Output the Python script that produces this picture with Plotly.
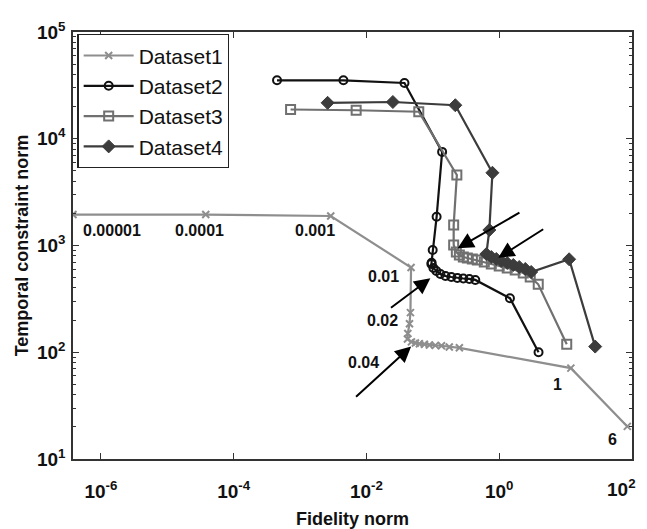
import numpy as np
import plotly.graph_objects as go

# ---------------- data ----------------
d1_x = [3.8e-7, 3.8e-5, 2.9e-3, 0.047, 0.046, 0.0445, 0.042, 0.0415, 0.0476, 0.0547,
        0.0628, 0.0746, 0.0887, 0.109, 0.135, 0.177, 0.251, 12.0, 85.0]
d1_y = [1950, 1950, 1890, 622, 235, 185, 150, 133, 125, 122,
        120, 119, 117, 116, 115, 112, 110, 71, 20.2]

d2_x = [4.5e-4, 4.5e-3, 0.0374, 0.138, 0.114, 0.0995, 0.096,
        0.0951, 0.102, 0.113, 0.130, 0.155, 0.190, 0.234, 0.288, 0.355, 0.436, 1.45, 3.91]
d2_y = [35300, 35300, 33300, 7530, 1858, 908, 690,
        671, 616, 577, 541, 518, 507, 497, 491, 486, 476, 321, 100]

d3_x = [7.2e-4, 7.0e-3, 0.0614, 0.23, 0.206, 0.206,
        0.226, 0.251, 0.288, 0.331, 0.394, 0.468, 0.596, 0.760, 1.00, 1.32, 1.74, 2.30, 2.93,
        3.87, 10.4]
d3_y = [18800, 18500, 17900, 4570, 1556, 1011,
        869, 815, 780, 764, 748, 731, 701, 671, 643, 616, 590, 553, 507,
        433, 119]

d4_x = [2.6e-3, 0.025, 0.218, 0.79, 0.71,
        0.640, 0.760, 0.904, 1.07, 1.32, 1.63, 2.00, 2.47, 3.03,
        11.3, 27.9]
d4_y = [21700, 22100, 20600, 4800, 1397,
        832, 780, 748, 716, 686, 657, 629, 603, 565,
        743, 113]

series_names = ["Dataset1", "Dataset2", "Dataset3", "Dataset4"]

x_tick_vals = [1e-6, 1e-4, 1e-2, 1, 1e2]
x_tick_text = ["<b>10<sup>-6</sup></b>", "<b>10<sup>-4</sup></b>", "<b>10<sup>-2</sup></b>",
               "<b>10<sup>0</sup></b>", ""]
x_last_tick_text = "<b>10<sup>2</sup></b>"   # drawn right-aligned at the axis end, as in the reference
y_tick_vals = [1e1, 1e2, 1e3, 1e4, 1e5]
y_tick_text = ["<b>10<sup>1</sup></b>", "<b>10<sup>2</sup></b>", "<b>10<sup>3</sup></b>",
               "<b>10<sup>4</sup></b>", "<b>10<sup>5</sup></b>"]

lambda_labels = ["0.00001", "0.0001", "0.001", "0.01", "0.02", "0.04", "1", "6"]
lambda_pos = [(-5.834, 3.145), (-4.51, 3.145), (-2.781, 3.145), (-1.743, 2.705),
              (-1.758, 2.294), (-2.044, 1.901), (0.873, 1.695), (1.70, 1.181)]
# arrows: (head_x, head_y, tail_x, tail_y) in log10 units
arrow_pos = [(-1.327, 2.055, -2.179, 1.571),
             (-1.037, 2.693, -1.653, 2.406),
             (-0.626, 2.974, 0.327, 3.316),
             (-0.014, 2.885, 0.685, 3.161)]

FONT = "Liberation Sans, Arial, sans-serif"
TICK_SIZE = 19

fig = go.Figure()
fig.add_trace(go.Scatter(x=d1_x, y=d1_y, name=series_names[0], mode="lines+markers",
                         line=dict(color="#8e8e8e", width=2.2),
                         marker=dict(symbol="x-thin-open", size=7, color="#8e8e8e",
                                     line=dict(width=2, color="#8e8e8e"))))
fig.add_trace(go.Scatter(x=d2_x, y=d2_y, name=series_names[1], mode="lines+markers",
                         line=dict(color="#111111", width=2.2),
                         marker=dict(symbol="circle-open", size=8, color="#111111",
                                     line=dict(width=2, color="#111111"))))
fig.add_trace(go.Scatter(x=d3_x, y=d3_y, name=series_names[2], mode="lines+markers",
                         line=dict(color="#707070", width=2.2),
                         marker=dict(symbol="square-open", size=9, color="#707070",
                                     line=dict(width=2, color="#707070"))))
fig.add_trace(go.Scatter(x=d4_x, y=d4_y, name=series_names[3], mode="lines+markers",
                         line=dict(color="#3c3c3c", width=2.2),
                         marker=dict(symbol="diamond", size=10, color="#3c3c3c",
                                     line=dict(width=1, color="#3c3c3c"))))

annotations = []
for txt, (ax_, ay_) in zip(lambda_labels, lambda_pos):
    annotations.append(dict(x=ax_, y=ay_, xref="x", yref="y", text="<b>" + txt + "</b>",
                            showarrow=False,
                            font=dict(family=FONT, size=16, color="#111111"),
                            xanchor="center", yanchor="middle"))
for hx, hy, tx, ty in arrow_pos:
    annotations.append(dict(x=hx, y=hy, ax=tx, ay=ty, xref="x", yref="y", axref="x", ayref="y",
                            text="", showarrow=True, arrowhead=2, arrowsize=1.6,
                            arrowwidth=2, arrowcolor="#000000", standoff=0))
annotations.append(dict(x=1, y=0, xref="paper", yref="paper", text=x_last_tick_text,
                        showarrow=False, xanchor="right", yanchor="top",
                        xshift=6, yshift=-15,
                        font=dict(family=FONT, size=TICK_SIZE, color="#111111")))

# the page body has an 8px margin, so the figure is sized/offset to land the plot
# area at the same window position as in the reference
fig.update_layout(
    width=639, height=521,
    margin=dict(l=65, r=15, t=24, b=70),
    paper_bgcolor="white", plot_bgcolor="white",
    font=dict(family=FONT, color="#111111"),
    showlegend=True,
    legend=dict(x=0.008, y=0.995, xanchor="left", yanchor="top",
                bgcolor="white", bordercolor="#222222", borderwidth=1.2,
                font=dict(family=FONT, size=21, color="#111111"),
                itemwidth=50, tracegroupgap=0),
    annotations=annotations,
)
fig.update_xaxes(type="log", range=[-6.42, 2], tickvals=x_tick_vals, ticktext=x_tick_text,
                 ticks="inside", ticklen=6, tickwidth=1.2, tickcolor="#333333",
                 showline=True, linecolor="#333333", linewidth=1.5, mirror="ticks",
                 showgrid=False, zeroline=False, automargin=False,
                 ticklabeloverflow="allow",
                 tickfont=dict(family=FONT, size=TICK_SIZE, color="#111111"),
                 ticklabelstandoff=14,
                 title=dict(text="<b>Fidelity norm</b>", font=dict(family=FONT, size=18), standoff=16))
fig.update_yaxes(type="log", range=[1, 5], tickvals=y_tick_vals, ticktext=y_tick_text,
                 ticks="inside", ticklen=6, tickwidth=1.2, tickcolor="#333333",
                 showline=True, linecolor="#333333", linewidth=1.5, mirror="ticks",
                 showgrid=False, zeroline=False, automargin=False,
                 ticklabeloverflow="allow",
                 minor=dict(ticks="inside", ticklen=3, tickcolor="#333333", showgrid=False,
                            tickvals=[m * 10 ** e for e in range(1, 5) for m in range(2, 10)]),
                 tickfont=dict(family=FONT, size=TICK_SIZE, color="#111111"),
                 ticklabelstandoff=2,
                 title=dict(text="<b>Temporal constraint norm</b>", font=dict(family=FONT, size=18), standoff=4))

fig.write_html("out.html")
